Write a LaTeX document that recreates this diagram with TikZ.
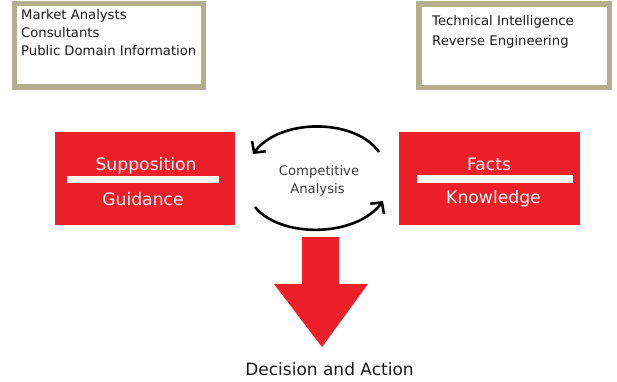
\documentclass[tikz,border=0pt]{standalone}
\usepackage{fontspec}
\setmainfont{DejaVu Sans}
\usepackage{tikz}
\usetikzlibrary{arrows.meta}
\definecolor{boxred}{RGB}{237,32,41}
\definecolor{khaki}{RGB}{180,174,142}
\definecolor{inkgray}{RGB}{25,25,25}

\begin{document}
\begin{tikzpicture}[x=1pt,y=-1pt]
  \tikzstyle{source}=[rectangle, draw=khaki, line width=5.5pt, fill=white]
  \tikzstyle{note}=[anchor=base west, inner sep=0, text=inkgray, font=\fontsize{13.2}{16}\selectfont]
  \tikzstyle{block}=[rectangle, fill=boxred, minimum width=180pt, minimum height=93pt]
  \tikzstyle{blocktext}=[anchor=base, inner sep=0, text=white!96!gray, font=\fontsize{17.2}{20}\selectfont]
  \tikzstyle{cycle}=[line width=2.6pt, -{Straight Barb[length=8pt,width=17pt]}]
  \useasboundingbox (0,0) rectangle (617,381);

  % sources
  \node[source, minimum width=189pt, minimum height=83.5pt] (left) at (109,45.25) {};
  \node[source, minimum width=190.5pt, minimum height=83.5pt] (right) at (514,45.5) {};
  \node[note] (market) at (21,19) {Market Analysts};
  \node[note] (consult) at (21,37) {Consultants};
  \node[note] (public) at (21,55) {Public Domain Information};
  \node[note] (techint) at (432,25) {Technical Intelligence};
  \node[note] (reverse) at (432,45) {Reverse Engineering};

  % red blocks
  \node[block] (supp) at (145,178.5) {};
  \node[block, minimum width=181pt] (facts) at (489.5,178.5) {};
  \fill[white!96!gray] (67,176) rectangle (219,183);
  \fill[white!96!gray] (417,175) rectangle (573,183);
  \node[blocktext] (supposition) at (146,170) {Supposition};
  \node[blocktext] (guidance) at (143,205) {Guidance};
  \node[blocktext] (fact) at (489,170) {Facts};
  \node[blocktext] (knowledge) at (493.5,203) {Knowledge};

  % analysis cycle
  \node[anchor=base, inner sep=0, text=inkgray!85!white, font=\fontsize{13.2}{16}\selectfont] (comp) at (319,175) {Competitive};
  \node[anchor=base, inner sep=0, text=inkgray!85!white, font=\fontsize{13.2}{16}\selectfont] (anal) at (317.5,193) {Analysis};
  \coordinate (uR) at (379,152);
  \coordinate (uL) at (253,154);
  \coordinate (lL) at (255,207);
  \coordinate (lR) at (383,201);
  \draw[cycle] (uR) .. controls (355,118) and (280,118) .. (uL);
  \draw[cycle] (lL) .. controls (280,238) and (355,238) .. (lR);

  % outcome
  \fill[boxred] (302,237) -- (339,237) -- (339,284) -- (368,284) -- (322,347)
    -- (274,284) -- (302,284) -- cycle;
  \node[anchor=base, inner sep=0, text=inkgray, font=\fontsize{17}{20}\selectfont] (decision) at (329.5,375) {Decision and Action};
\end{tikzpicture}
\end{document}
